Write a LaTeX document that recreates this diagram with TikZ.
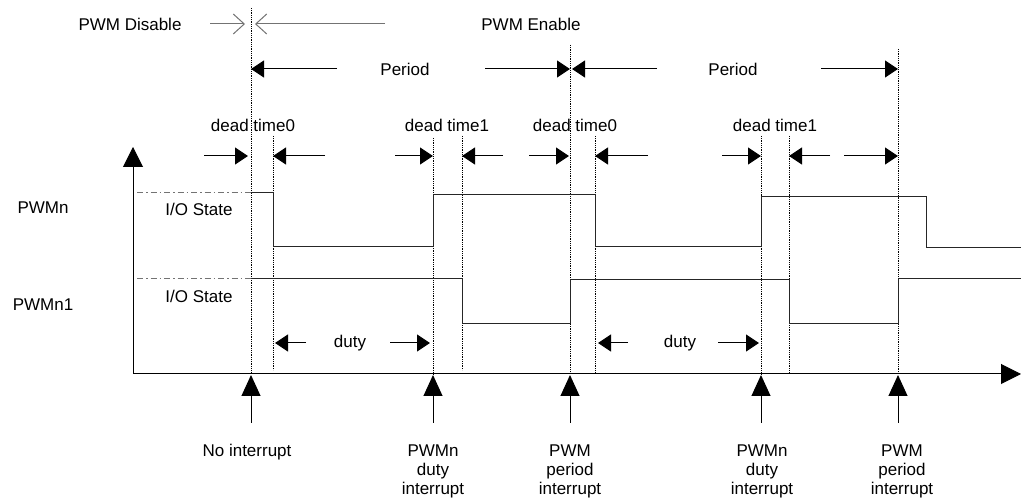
\documentclass[tikz,border=0pt]{standalone}
\usepackage{fontspec}
\setmainfont{Liberation Sans}
\usetikzlibrary{arrows.meta}

\begin{document}
\begin{tikzpicture}[x=1pt,y=-1pt,
		font=\fontsize{17}{19}\selectfont,
		every node/.style={inner sep=0pt},
		guide/.style={densely dotted,line width=0.8pt},
		dim/.style={line width=1pt,-{Triangle[length=13pt,width=17pt]}},
		span/.style={line width=1pt,black!55,-{Straight Barb[length=11pt,width=20pt]}},
		axis/.style={line width=1pt,-{Triangle[length=20pt,width=20pt]}},
		irq/.style={line width=1pt,-{Triangle[length=21pt,width=19pt]}},
		sig/.style={line width=1pt,black!85},
		idle/.style={line width=1pt,black!55,dash pattern=on 6pt off 3pt on 1.5pt off 3pt}]
		\useasboundingbox (0,0) rectangle (1021,502);
		% marker lines
		\foreach \n/\x/\t/\b in {m0/251/8/374,d0/273/136/370,m1/433/138/374,d1/462/136/370,
				m2/570/45/374,d2/595/136/372,m3/761/136/374,d3/789/136/372,m4/898/49/374}{
			\coordinate (\n top) at (\x,\t);
			\coordinate (\n bot) at (\x,\b);
			\draw[guide] (\n top) -- (\n bot);
		}
		% axes
		\coordinate (origin) at (133,374);
		\coordinate (yend) at (133,147);
		\coordinate (xend) at (1021,374);
		\draw[axis] (origin) -- (yend);
		\draw[axis] (origin) -- (xend);
		% enable / disable
		\node (disable) at (130,24) {PWM Disable};
		\node (enable) at (531,24) {PWM Enable};
		\coordinate (dis) at (210,24);
		\coordinate (ena) at (385,24);
		\draw[span] (dis) -- ([xshift=-6pt]m0top |- dis);
		\draw[span] (ena) -- ([xshift=4pt]m0top |- ena);
		% period
		\node (per1) at (405,69) {Period};
		\node (per2) at (733,69) {Period};
		\foreach \n/\x in {pa/337,pb/485,pc/657,pd/821}
			\coordinate (\n) at (\x,69);
		\draw[dim] (pa) -- (m0top |- pa);
		\draw[dim] (pb) -- (m2top |- pb);
		\draw[dim] (pc) -- ([xshift=2pt]m2top |- pc);
		\draw[dim] (pd) -- (m4top |- pd);
		% dead time
		\node (dt0a) at (253,125) {dead time0};
		\node (dt1a) at (447,125) {dead time1};
		\node (dt0b) at (575,125) {dead time0};
		\node (dt1b) at (775,125) {dead time1};
		\foreach \n/\x in {da/204,db/325,dc/395,dd/503,de/529,df/648,dg/722,dh/830,di/844}
			\coordinate (\n) at (\x,156);
		\draw[dim] (da) -- ([xshift=-3pt]m0top |- da);
		\draw[dim] (db) -- (d0top |- db);
		\draw[dim] (dc) -- (m1top |- dc);
		\draw[dim] (dd) -- (d1top |- dd);
		\draw[dim] (de) -- ([xshift=-1pt]m2top |- de);
		\draw[dim] (df) -- (d2top |- df);
		\draw[dim] (dg) -- (m3top |- dg);
		\draw[dim] (dh) -- (d3top |- dh);
		\draw[dim] (di) -- (m4top |- di);
		% signals
		\node (pwmn) at (43,208) {PWMn};
		\node (pwmn1) at (43,305) {PWMn1};
		\node (io1) at (199,209) {I/O State};
		\node (io2) at (199,296) {I/O State};
		\draw[idle] (137,193) -- (251,193);
		\draw[idle] (137,279) -- (251,279);
		\draw[sig] (251,193) -- (273,193) -- (273,247) -- (433,247) -- (433,195) -- (595,195)
			-- (595,247) -- (761,247) -- (761,197) -- (926,197) -- (926,248) -- (1021,248);
		\draw[sig] (251,279) -- (462,279) -- (462,324) -- (570,324) -- (570,280) -- (789,280)
			-- (789,324) -- (898,324) -- (898,279) -- (1021,279);
		% duty
		\node (duty1) at (350,343) {duty};
		\node (duty2) at (680,343) {duty};
		\foreach \n/\x in {ua/306,ub/390,uc/628,ud/718}
			\coordinate (\n) at (\x,343);
		\draw[dim] (ua) -- ([xshift=2pt]d0top |- ua);
		\draw[dim] (ub) -- ([xshift=-3pt]m1top |- ub);
		\draw[dim] (uc) -- ([xshift=3pt]d2top |- uc);
		\draw[dim] (ud) -- ([xshift=-2pt]m3top |- ud);
		% interrupts
		\foreach \n in {m0,m1,m2,m3,m4}{
			\coordinate (\n irq) at ([yshift=-49pt]\n bot);
			\draw[irq] (\n irq) -- ([yshift=-1pt]\n bot);
		}
		\node (noirq) at (247,452) {No interrupt};
		\node[align=center] (duty irq1) at (433,471) {PWMn\\duty\\interrupt};
		\node[align=center] (per irq1) at (570,471) {PWM\\period\\interrupt};
		\node[align=center] (duty irq2) at (762,471) {PWMn\\duty\\interrupt};
		\node[align=center] (per irq2) at (902,471) {PWM\\period\\interrupt};
\end{tikzpicture}
\end{document}
